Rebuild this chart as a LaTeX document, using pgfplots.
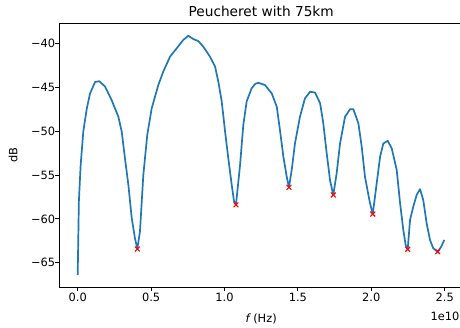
\documentclass[border=0pt]{standalone}
\usepackage{pgfplots}
\pgfplotsset{compat=1.18}
\usepackage{fontspec}
\setmainfont{DejaVu Sans}
\definecolor{mplblue}{HTML}{1F77B4}
\begin{document}
\begin{tikzpicture}
\begin{axis}[
  at={(59.35bp,41bp)}, anchor=south west,
  scale only axis, width=403.7bp, height=263.25bp,
  xmin=-0.125, xmax=2.625, ymin=-67.76, ymax=-37.75,
  axis line style={black, line width=0.9bp},
  tick align=outside, major tick length=4bp,
  tick style={black, line width=0.9bp},
  xtick={0,0.5,1,1.5,2,2.5},
  xticklabels={0.0,0.5,1.0,1.5,2.0,2.5},
  ytick={-65,-60,-55,-50,-45,-40},
  yticklabels={−65,−60,−55,−50,−45,−40},
  xtick pos=bottom, ytick pos=left,
  font=\fontsize{11.4bp}{13.7bp}\selectfont,
  xticklabel style={anchor=north, inner sep=0pt, yshift=-1.7bp},
  yticklabel style={anchor=east, inner sep=0pt, xshift=0bp},
  title={Peucheret with 75km},
  every axis title/.style={at={(0.5,1)}, anchor=base, yshift=7.25bp, inner sep=0pt, font=\fontsize{13.7bp}{16bp}\selectfont},
  xlabel={{\itshape f} (Hz)},
  every axis x label/.style={at={(0.5,0)}, anchor=base, yshift=-35.5bp, inner sep=0pt},
  ylabel={dB},
  every axis y label/.style={at={(-0.10367,0.5)}, anchor=base, rotate=90, inner sep=0pt},
]
\addplot[mplblue, line width=1.7bp, line join=round, no markers] table {
x y
0 -66.4
0.008 -58.0
0.02 -53.9
0.038 -50.06
0.062 -47.4
0.084 -45.7
0.118 -44.4
0.147 -44.3
0.186 -44.9
0.231 -46.45
0.277 -48.35
0.3 -50.06
0.322 -53.1
0.345 -56.1
0.368 -59.9
0.39 -62.2
0.406 -63.4
0.424 -61.45
0.447 -55.0
0.474 -50.4
0.504 -47.4
0.549 -44.74
0.583 -43.2
0.629 -41.5
0.674 -40.56
0.719 -39.6
0.753 -39.12
0.788 -39.5
0.822 -39.73
0.856 -40.37
0.901 -41.5
0.936 -42.65
0.958 -44.36
0.981 -46.6
1.004 -50.06
1.026 -53.1
1.049 -56.1
1.065 -58.0
1.078 -58.4
1.106 -53.86
1.128 -49.3
1.151 -46.6
1.185 -45.1
1.21 -44.6
1.23 -44.48
1.276 -44.74
1.322 -45.7
1.356 -47.2
1.378 -49.9
1.401 -52.9
1.424 -55.2
1.439 -56.4
1.458 -54.4
1.48 -51.4
1.514 -48.35
1.548 -46.26
1.583 -45.5
1.617 -45.6
1.651 -46.8
1.673 -49.1
1.696 -52.5
1.719 -55.6
1.741 -57.27
1.764 -54.8
1.787 -51.4
1.821 -48.35
1.855 -47.5
1.878 -47.5
1.912 -49.1
1.935 -51.8
1.957 -55.2
1.991 -58.2
2.01 -59.44
2.037 -55.9
2.06 -52.9
2.082 -51.4
2.112 -51.1
2.139 -51.95
2.173 -54.4
2.196 -58.2
2.218 -61.26
2.234 -62.97
2.248 -63.46
2.264 -60.1
2.286 -58.6
2.309 -57.27
2.332 -56.6
2.354 -57.85
2.377 -60.5
2.4 -62.4
2.422 -63.35
2.452 -63.73
2.475 -63.2
2.497 -62.4
};
\addplot[only marks, mark=x, red, mark size=3.4bp, line width=1.1bp] table {
x y
0.406 -63.43
1.078 -58.4
1.439 -56.4
1.741 -57.27
2.01 -59.44
2.248 -63.46
2.452 -63.73
};
\end{axis}
\node[anchor=base east, inner sep=0pt, font=\fontsize{11.4bp}{13.7bp}\selectfont] at (459.5bp,7.7bp) {1e10};
\pgfresetboundingbox
\path[use as bounding box] (0,0) rectangle (460bp,328bp);
\end{tikzpicture}
\end{document}
